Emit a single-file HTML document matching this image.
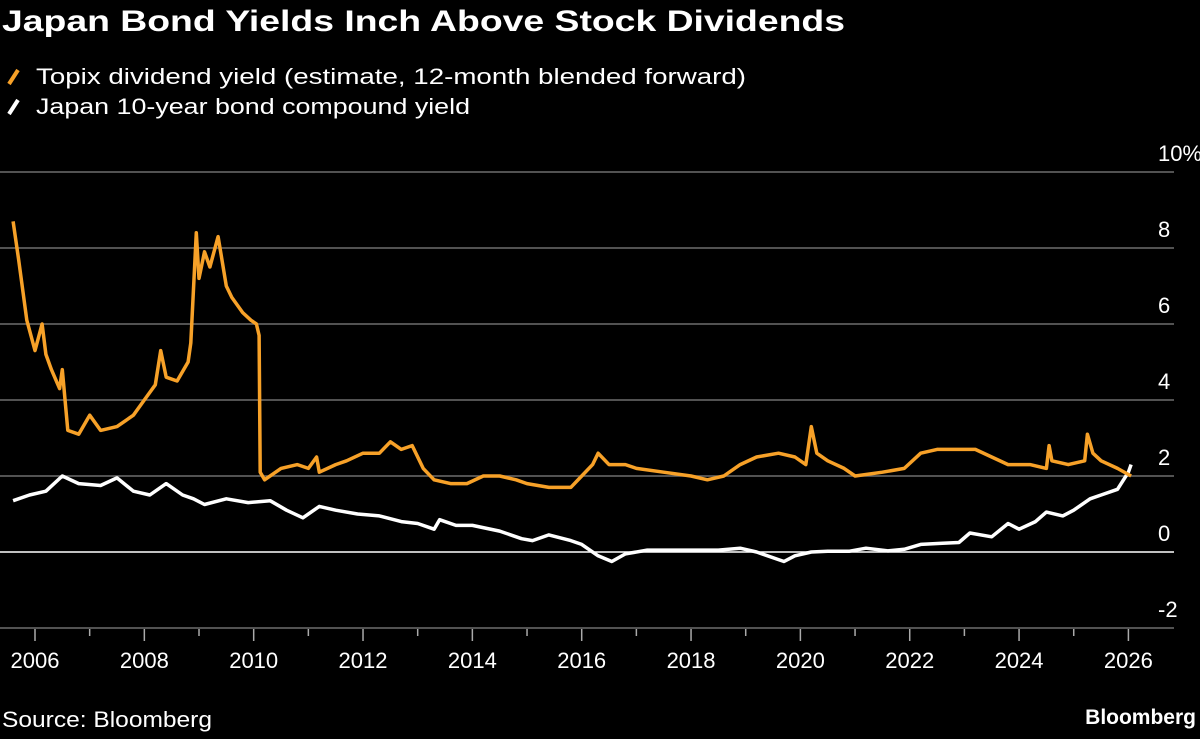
<!DOCTYPE html>
<html><head><meta charset="utf-8"><style>
html,body{margin:0;padding:0;background:#000;}
body{width:1200px;height:734px;overflow:hidden;font-family:"Liberation Sans",sans-serif;color:#fff;}
</style></head><body>
<svg width="1200" height="734" viewBox="0 0 1200 734">
<text x="2" y="31" font-size="30" font-weight="bold" fill="#fff" textLength="843" lengthAdjust="spacingAndGlyphs">Japan Bond Yields Inch Above Stock Dividends</text>
<g>
<line x1="9" y1="84" x2="18" y2="70" stroke="#f7a128" stroke-width="4"/>
<text x="36" y="84" font-size="22" fill="#fff" textLength="710" lengthAdjust="spacingAndGlyphs">Topix dividend yield (estimate, 12-month blended forward)</text>
<line x1="9" y1="114" x2="18" y2="100" stroke="#fff" stroke-width="4"/>
<text x="36" y="114" font-size="22" fill="#fff" textLength="434" lengthAdjust="spacingAndGlyphs">Japan 10-year bond compound yield</text>
</g>
<g id="grid"></g><g id="xaxis"></g><g id="lines"></g>
<text x="2" y="727" font-size="22" fill="#fff" textLength="210" lengthAdjust="spacingAndGlyphs">Source: Bloomberg</text>
<text x="1196" y="724" font-size="21" font-weight="bold" fill="#fff" text-anchor="end">Bloomberg</text>
</svg>
<script>
const yTicks=[10,8,6,4,2,0,-2];
const yTickLabels=["10%","8","6","4","2","0","-2"];
const xTickYears=[2006,2008,2010,2012,2014,2016,2018,2020,2022,2024,2026];
const topixT=[2005.6,2005.7,2005.85,2006.0,2006.13,2006.2,2006.3,2006.45,2006.5,2006.6,2006.8,2007.0,2007.2,2007.5,2007.8,2008.0,2008.2,2008.3,2008.4,2008.6,2008.8,2008.85,2008.95,2009.0,2009.1,2009.2,2009.35,2009.5,2009.6,2009.8,2009.95,2010.05,2010.1,2010.12,2010.2,2010.5,2010.8,2011.0,2011.15,2011.2,2011.5,2011.7,2012.0,2012.3,2012.5,2012.7,2012.9,2013.1,2013.3,2013.6,2013.9,2014.2,2014.5,2014.8,2015.0,2015.4,2015.8,2016.0,2016.2,2016.3,2016.5,2016.8,2017.0,2017.5,2018.0,2018.3,2018.6,2018.9,2019.2,2019.6,2019.9,2020.1,2020.2,2020.3,2020.5,2020.8,2021.0,2021.5,2021.9,2022.2,2022.5,2022.9,2023.2,2023.5,2023.8,2024.2,2024.5,2024.55,2024.6,2024.9,2025.2,2025.25,2025.35,2025.5,2025.8,2026.05];
const topixV=[8.7,7.7,6.1,5.3,6.0,5.2,4.8,4.3,4.8,3.2,3.1,3.6,3.2,3.3,3.6,4.0,4.4,5.3,4.6,4.5,5.0,5.5,8.4,7.2,7.9,7.5,8.3,7.0,6.7,6.3,6.1,6.0,5.7,2.1,1.9,2.2,2.3,2.2,2.5,2.1,2.3,2.4,2.6,2.6,2.9,2.7,2.8,2.2,1.9,1.8,1.8,2.0,2.0,1.9,1.8,1.7,1.7,2.0,2.3,2.6,2.3,2.3,2.2,2.1,2.0,1.9,2.0,2.3,2.5,2.6,2.5,2.3,3.3,2.6,2.4,2.2,2.0,2.1,2.2,2.6,2.7,2.7,2.7,2.5,2.3,2.3,2.2,2.8,2.4,2.3,2.4,3.1,2.6,2.4,2.2,2.0];
const jgbT=[2005.6,2005.9,2006.2,2006.5,2006.8,2007.2,2007.5,2007.8,2008.1,2008.4,2008.7,2008.9,2009.1,2009.5,2009.9,2010.3,2010.6,2010.9,2011.2,2011.5,2011.9,2012.3,2012.7,2013.0,2013.3,2013.4,2013.7,2014.0,2014.5,2014.9,2015.1,2015.4,2015.8,2016.0,2016.3,2016.55,2016.8,2017.2,2017.6,2018.0,2018.5,2018.9,2019.2,2019.6,2019.7,2019.9,2020.2,2020.5,2020.9,2021.2,2021.6,2021.9,2022.2,2022.6,2022.9,2023.1,2023.5,2023.8,2024.0,2024.3,2024.5,2024.8,2025.0,2025.3,2025.5,2025.8,2026.0,2026.05];
const jgbV=[1.35,1.5,1.6,2.0,1.8,1.75,1.95,1.6,1.5,1.8,1.5,1.4,1.25,1.4,1.3,1.35,1.1,0.9,1.2,1.1,1.0,0.95,0.8,0.75,0.6,0.85,0.7,0.7,0.55,0.35,0.3,0.45,0.3,0.2,-0.1,-0.25,-0.05,0.05,0.05,0.05,0.05,0.1,0.0,-0.2,-0.25,-0.1,0.0,0.02,0.02,0.1,0.03,0.07,0.2,0.23,0.25,0.5,0.4,0.75,0.6,0.8,1.05,0.95,1.1,1.4,1.5,1.65,2.1,2.3];
const NS="http://www.w3.org/2000/svg";
const xS=t=>35+54.67*(t-2006);
const yS=v=>552-38*v;
function mk(tag,attrs,parent){const e=document.createElementNS(NS,tag);for(const k in attrs)e.setAttribute(k,attrs[k]);parent.appendChild(e);return e;}
const grid=document.getElementById('grid');
yTicks.forEach((v,i)=>{
  const l=mk('line',{x1:0,x2:1174,y1:yS(v),y2:yS(v),stroke:v===0?'#fff':'#6e6e6e','stroke-width':1.5},grid);
  
  
  const t=mk('text',{x:1158,y:yS(v)-11,'font-size':22,fill:'#fff'},grid);
  t.textContent=yTickLabels[i];
  
  
});
const xa=document.getElementById('xaxis');
for(let yr=2006;yr<=2026;yr++){
  const major=xTickYears.includes(yr);
  const tk=mk('line',{x1:xS(yr),x2:xS(yr),y1:629,y2:major?641:636,stroke:'#aaa','stroke-width':1.5},xa);
  
  
}
xTickYears.forEach(yr=>{
  const t=mk('text',{x:xS(yr),y:668,'font-size':22,fill:'#fff','text-anchor':'middle'},xa);
  t.textContent=yr;
  
  
});
const lg=document.getElementById('lines');
function path(T,V){return T.map((t,i)=>(i?'L':'M')+xS(t).toFixed(1)+','+yS(V[i]).toFixed(1)).join(' ');}
const pj=mk('path',{d:path(jgbT,jgbV),fill:'none',stroke:'#fff','stroke-width':3.5,'stroke-linejoin':'round'},lg);


const pt=mk('path',{d:path(topixT,topixV),fill:'none',stroke:'#f7a128','stroke-width':3.5,'stroke-linejoin':'round'},lg);


</script>
</body></html>
